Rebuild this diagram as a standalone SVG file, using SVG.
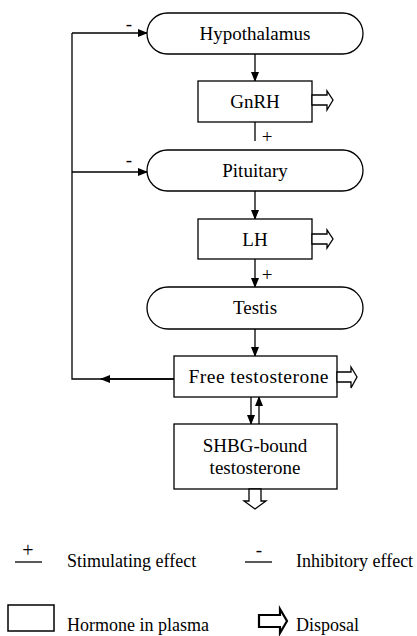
<svg xmlns="http://www.w3.org/2000/svg" width="417" height="636" viewBox="0 0 417 636">
<defs>
<marker id="ah" markerWidth="10" markerHeight="10" refX="9" refY="5" orient="auto" markerUnits="userSpaceOnUse" viewBox="0 0 10 10">
<path d="M0,1 L10,5 L0,9 Z" fill="#000"/>
</marker>
</defs>
<rect width="417" height="636" fill="#fff"/>
<g id="connectors" fill="none" stroke="#000" stroke-width="1.3">
<line x1="255" y1="54" x2="255" y2="81" marker-end="url(#ah)"/>
<line x1="255" y1="122" x2="255" y2="141"/>
<line x1="255" y1="191" x2="255" y2="219" marker-end="url(#ah)"/>
<line x1="255" y1="259" x2="255" y2="287" marker-end="url(#ah)"/>
<line x1="255" y1="329" x2="255" y2="356" marker-end="url(#ah)"/>
<line x1="251" y1="397" x2="251" y2="424" marker-end="url(#ah)"/>
<line x1="259" y1="424" x2="259" y2="397" marker-end="url(#ah)"/>
<polyline points="174,379 72,379 72,33"/>
<line x1="174" y1="379" x2="101" y2="379" marker-end="url(#ah)"/>
<line x1="72" y1="33" x2="147" y2="33" marker-end="url(#ah)"/>
<line x1="72" y1="172" x2="147" y2="172" marker-end="url(#ah)"/>
</g>
<g id="signs" font-family="Liberation Serif" font-size="19" text-anchor="middle" fill="#000">
<text x="129" y="30">-</text>
<text x="129" y="166">-</text>
<text x="267" y="143">+</text>
<text x="267" y="281">+</text>
</g>
<g id="hypothalamus"><rect x="147" y="13" width="216" height="41" rx="20.5" fill="#fff" stroke="#000" stroke-width="1.3"/><text x="255" y="40" font-family="Liberation Serif" font-size="19" text-anchor="middle">Hypothalamus</text></g>
<g id="gnrh"><rect x="198" y="81" width="114" height="41" fill="#fff" stroke="#000" stroke-width="1.3"/><text x="255" y="108" font-family="Liberation Serif" font-size="19" text-anchor="middle">GnRH</text>
<polygon points="312,95 327,95 327,91 333,100 327,110 327,105 312,105" fill="#fff" stroke="#000" stroke-width="1.3"/></g>
<g id="pituitary"><rect x="147" y="150" width="216" height="41" rx="20.5" fill="#fff" stroke="#000" stroke-width="1.3"/><text x="255" y="177" font-family="Liberation Serif" font-size="19" text-anchor="middle">Pituitary</text></g>
<g id="lh"><rect x="198" y="219" width="114" height="40" fill="#fff" stroke="#000" stroke-width="1.3"/><text x="255" y="246" font-family="Liberation Serif" font-size="19" text-anchor="middle">LH</text>
<polygon points="312,234 327,234 327,230 333,239 327,248 327,244 312,244" fill="#fff" stroke="#000" stroke-width="1.3"/></g>
<g id="testis"><rect x="147" y="287" width="216" height="42" rx="21" fill="#fff" stroke="#000" stroke-width="1.3"/><text x="255" y="314" font-family="Liberation Serif" font-size="19" text-anchor="middle">Testis</text></g>
<g id="free-testosterone"><rect x="174" y="356" width="163" height="41" fill="#fff" stroke="#000" stroke-width="1.3"/><text x="258.5" y="383" font-family="Liberation Serif" font-size="19.5" text-anchor="middle" textLength="140" lengthAdjust="spacing">Free testosterone</text>
<polygon points="337,372 351,372 351,367 357,377 351,388 351,382 337,382" fill="#fff" stroke="#000" stroke-width="1.3"/></g>
<g id="shbg"><rect x="174" y="424" width="163" height="65" fill="#fff" stroke="#000" stroke-width="1.3"/><text x="255" y="452" font-family="Liberation Serif" font-size="19" text-anchor="middle">SHBG-bound</text><text x="255" y="474" font-family="Liberation Serif" font-size="19" text-anchor="middle">testosterone</text>
<polygon points="249,489 249,501 244,501 255,509 266,501 261,501 261,489" fill="#fff" stroke="#000" stroke-width="1.3"/></g>
<g id="legend" font-family="Liberation Serif" font-size="18" fill="#000">
<text x="28" y="557" font-size="20" text-anchor="middle">+</text>
<line x1="15" y1="562" x2="42" y2="562" stroke="#000" stroke-width="1.3"/>
<text x="67" y="567">Stimulating effect</text>
<text x="259" y="556" font-size="19" text-anchor="middle">-</text>
<line x1="245" y1="562" x2="272" y2="562" stroke="#000" stroke-width="1.3"/>
<text x="296" y="567">Inhibitory effect</text>
<rect x="8" y="605" width="46" height="26" fill="#fff" stroke="#000" stroke-width="1.5"/>
<text x="67" y="631">Hormone in plasma</text>
<polygon points="259,615 280,615 280,609 287,621 280,633 280,627 259,627" fill="#fff" stroke="#000" stroke-width="2.2"/>
<text x="296" y="631">Disposal</text>
</g>
</svg>
